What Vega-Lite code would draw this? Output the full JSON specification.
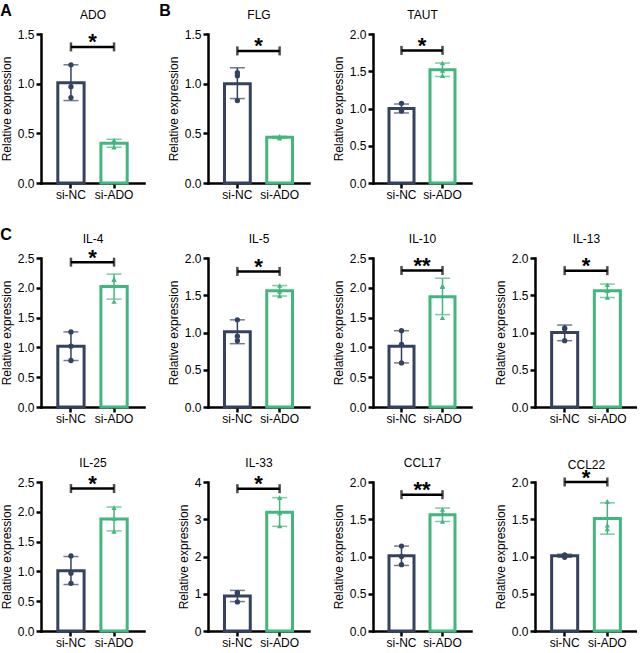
{
  "$schema": "https://vega.github.io/schema/vega-lite/v6.json",
  "padding": {"left": 0, "top": 2, "right": 0, "bottom": 0},
  "background": "white",
  "data": {
    "values": [
      {"panel": "ADO", "kind": "bar", "group": "si-NC", "mean": 1.01, "lo": 0.83, "hi": 1.19},
      {"panel": "ADO", "kind": "bar", "group": "si-ADO", "mean": 0.40, "lo": 0.36, "hi": 0.44},
      {"panel": "ADO", "kind": "pt", "group": "si-NC", "value": 1.19},
      {"panel": "ADO", "kind": "pt", "group": "si-NC", "value": 0.97},
      {"panel": "ADO", "kind": "pt", "group": "si-NC", "value": 0.86},
      {"panel": "ADO", "kind": "pt", "group": "si-ADO", "value": 0.43},
      {"panel": "ADO", "kind": "pt", "group": "si-ADO", "value": 0.42},
      {"panel": "ADO", "kind": "pt", "group": "si-ADO", "value": 0.36},
      {"panel": "ADO", "kind": "sig", "y": 1.37, "label": "*"},

      {"panel": "FLG", "kind": "bar", "group": "si-NC", "mean": 1.00, "lo": 0.85, "hi": 1.16},
      {"panel": "FLG", "kind": "bar", "group": "si-ADO", "mean": 0.46, "lo": 0.45, "hi": 0.47},
      {"panel": "FLG", "kind": "pt", "group": "si-NC", "value": 1.11},
      {"panel": "FLG", "kind": "pt", "group": "si-NC", "value": 1.08},
      {"panel": "FLG", "kind": "pt", "group": "si-NC", "value": 0.83},
      {"panel": "FLG", "kind": "pt", "group": "si-ADO", "value": 0.47},
      {"panel": "FLG", "kind": "pt", "group": "si-ADO", "value": 0.46},
      {"panel": "FLG", "kind": "pt", "group": "si-ADO", "value": 0.45},
      {"panel": "FLG", "kind": "sig", "y": 1.33, "label": "*"},

      {"panel": "TAUT", "kind": "bar", "group": "si-NC", "mean": 1.00, "lo": 0.94, "hi": 1.06},
      {"panel": "TAUT", "kind": "bar", "group": "si-ADO", "mean": 1.52, "lo": 1.43, "hi": 1.61},
      {"panel": "TAUT", "kind": "pt", "group": "si-NC", "value": 1.07},
      {"panel": "TAUT", "kind": "pt", "group": "si-NC", "value": 0.97},
      {"panel": "TAUT", "kind": "pt", "group": "si-NC", "value": 0.97},
      {"panel": "TAUT", "kind": "pt", "group": "si-ADO", "value": 1.61},
      {"panel": "TAUT", "kind": "pt", "group": "si-ADO", "value": 1.51},
      {"panel": "TAUT", "kind": "pt", "group": "si-ADO", "value": 1.44},
      {"panel": "TAUT", "kind": "sig", "y": 1.78, "label": "*"},

      {"panel": "IL-4", "kind": "bar", "group": "si-NC", "mean": 1.02, "lo": 0.78, "hi": 1.26},
      {"panel": "IL-4", "kind": "bar", "group": "si-ADO", "mean": 2.02, "lo": 1.81, "hi": 2.23},
      {"panel": "IL-4", "kind": "pt", "group": "si-NC", "value": 1.26},
      {"panel": "IL-4", "kind": "pt", "group": "si-NC", "value": 1.02},
      {"panel": "IL-4", "kind": "pt", "group": "si-NC", "value": 0.78},
      {"panel": "IL-4", "kind": "pt", "group": "si-ADO", "value": 2.14},
      {"panel": "IL-4", "kind": "pt", "group": "si-ADO", "value": 2.14},
      {"panel": "IL-4", "kind": "pt", "group": "si-ADO", "value": 1.77},
      {"panel": "IL-4", "kind": "sig", "y": 2.43, "label": "*"},

      {"panel": "IL-5", "kind": "bar", "group": "si-NC", "mean": 1.01, "lo": 0.85, "hi": 1.17},
      {"panel": "IL-5", "kind": "bar", "group": "si-ADO", "mean": 1.56, "lo": 1.49, "hi": 1.63},
      {"panel": "IL-5", "kind": "pt", "group": "si-NC", "value": 1.17},
      {"panel": "IL-5", "kind": "pt", "group": "si-NC", "value": 0.95},
      {"panel": "IL-5", "kind": "pt", "group": "si-NC", "value": 0.89},
      {"panel": "IL-5", "kind": "pt", "group": "si-ADO", "value": 1.63},
      {"panel": "IL-5", "kind": "pt", "group": "si-ADO", "value": 1.55},
      {"panel": "IL-5", "kind": "pt", "group": "si-ADO", "value": 1.49},
      {"panel": "IL-5", "kind": "sig", "y": 1.82, "label": "*"},

      {"panel": "IL-10", "kind": "bar", "group": "si-NC", "mean": 1.02, "lo": 0.74, "hi": 1.28},
      {"panel": "IL-10", "kind": "bar", "group": "si-ADO", "mean": 1.85, "lo": 1.55, "hi": 2.16},
      {"panel": "IL-10", "kind": "pt", "group": "si-NC", "value": 1.28},
      {"panel": "IL-10", "kind": "pt", "group": "si-NC", "value": 1.05},
      {"panel": "IL-10", "kind": "pt", "group": "si-NC", "value": 0.74},
      {"panel": "IL-10", "kind": "pt", "group": "si-ADO", "value": 2.03},
      {"panel": "IL-10", "kind": "pt", "group": "si-ADO", "value": 2.02},
      {"panel": "IL-10", "kind": "pt", "group": "si-ADO", "value": 1.50},
      {"panel": "IL-10", "kind": "sig", "y": 2.29, "label": "**"},

      {"panel": "IL-13", "kind": "bar", "group": "si-NC", "mean": 1.00, "lo": 0.89, "hi": 1.10},
      {"panel": "IL-13", "kind": "bar", "group": "si-ADO", "mean": 1.56, "lo": 1.47, "hi": 1.65},
      {"panel": "IL-13", "kind": "pt", "group": "si-NC", "value": 1.06},
      {"panel": "IL-13", "kind": "pt", "group": "si-NC", "value": 1.05},
      {"panel": "IL-13", "kind": "pt", "group": "si-NC", "value": 0.89},
      {"panel": "IL-13", "kind": "pt", "group": "si-ADO", "value": 1.64},
      {"panel": "IL-13", "kind": "pt", "group": "si-ADO", "value": 1.56},
      {"panel": "IL-13", "kind": "pt", "group": "si-ADO", "value": 1.47},
      {"panel": "IL-13", "kind": "sig", "y": 1.83, "label": "*"},

      {"panel": "IL-25", "kind": "bar", "group": "si-NC", "mean": 1.01, "lo": 0.78, "hi": 1.25},
      {"panel": "IL-25", "kind": "bar", "group": "si-ADO", "mean": 1.88, "lo": 1.68, "hi": 2.08},
      {"panel": "IL-25", "kind": "pt", "group": "si-NC", "value": 1.26},
      {"panel": "IL-25", "kind": "pt", "group": "si-NC", "value": 0.97},
      {"panel": "IL-25", "kind": "pt", "group": "si-NC", "value": 0.80},
      {"panel": "IL-25", "kind": "pt", "group": "si-ADO", "value": 2.07},
      {"panel": "IL-25", "kind": "pt", "group": "si-ADO", "value": 1.89},
      {"panel": "IL-25", "kind": "pt", "group": "si-ADO", "value": 1.67},
      {"panel": "IL-25", "kind": "sig", "y": 2.39, "label": "*"},

      {"panel": "IL-33", "kind": "bar", "group": "si-NC", "mean": 0.94, "lo": 0.79, "hi": 1.09},
      {"panel": "IL-33", "kind": "bar", "group": "si-ADO", "mean": 3.19, "lo": 2.81, "hi": 3.58},
      {"panel": "IL-33", "kind": "pt", "group": "si-NC", "value": 1.03},
      {"panel": "IL-33", "kind": "pt", "group": "si-NC", "value": 1.02},
      {"panel": "IL-33", "kind": "pt", "group": "si-NC", "value": 0.78},
      {"panel": "IL-33", "kind": "pt", "group": "si-ADO", "value": 3.58},
      {"panel": "IL-33", "kind": "pt", "group": "si-ADO", "value": 3.17},
      {"panel": "IL-33", "kind": "pt", "group": "si-ADO", "value": 2.82},
      {"panel": "IL-33", "kind": "sig", "y": 3.82, "label": "*"},

      {"panel": "CCL17", "kind": "bar", "group": "si-NC", "mean": 1.01, "lo": 0.88, "hi": 1.14},
      {"panel": "CCL17", "kind": "bar", "group": "si-ADO", "mean": 1.56, "lo": 1.47, "hi": 1.65},
      {"panel": "CCL17", "kind": "pt", "group": "si-NC", "value": 1.14},
      {"panel": "CCL17", "kind": "pt", "group": "si-NC", "value": 1.00},
      {"panel": "CCL17", "kind": "pt", "group": "si-NC", "value": 0.89},
      {"panel": "CCL17", "kind": "pt", "group": "si-ADO", "value": 1.63},
      {"panel": "CCL17", "kind": "pt", "group": "si-ADO", "value": 1.58},
      {"panel": "CCL17", "kind": "pt", "group": "si-ADO", "value": 1.47},
      {"panel": "CCL17", "kind": "sig", "y": 1.83, "label": "**"},

      {"panel": "CCL22", "kind": "bar", "group": "si-NC", "mean": 1.01, "lo": 0.99, "hi": 1.03},
      {"panel": "CCL22", "kind": "bar", "group": "si-ADO", "mean": 1.51, "lo": 1.30, "hi": 1.72},
      {"panel": "CCL22", "kind": "pt", "group": "si-NC", "value": 1.02},
      {"panel": "CCL22", "kind": "pt", "group": "si-NC", "value": 1.01},
      {"panel": "CCL22", "kind": "pt", "group": "si-NC", "value": 0.99},
      {"panel": "CCL22", "kind": "pt", "group": "si-ADO", "value": 1.74},
      {"panel": "CCL22", "kind": "pt", "group": "si-ADO", "value": 1.42},
      {"panel": "CCL22", "kind": "pt", "group": "si-ADO", "value": 1.37},
      {"panel": "CCL22", "kind": "sig", "y": 2.0, "label": "*"}
    ]
  },
  "columns": 4,
  "bounds": "flush",
  "align": "each",
  "spacing": {"row": 75, "column": 64},
  "concat": [
    {
      "width": 103, "height": 149,
      "title": {"text": "A"},
      "transform": [{"filter": "datum.panel == 'ADO'"}],
      "resolve": {"axis": {"x": "independent"}},
      "encoding": {"color": {"field": "group", "type": "nominal", "scale": {"domain": ["si-NC", "si-ADO"], "range": ["#34425f", "#43b57f"]}, "legend": null}},
      "layer": [
        {"transform": [{"filter": "datum.kind == 'bar'"}], "mark": {"type": "bar", "fill": "white", "strokeWidth": 3},
         "encoding": {"x": {"field": "group", "type": "nominal", "scale": {"domain": ["si-NC", "si-ADO"], "paddingInner": 0.39, "paddingOuter": 0.39}, "axis": {"title": null}},
                      "y": {"field": "mean", "type": "quantitative", "scale": {"domain": [0, 1.5], "nice": false}, "axis": {"title": "Relative expression", "values": [0, 0.5, 1, 1.5], "tickCount": 20, "format": ".1f"}},
                      "color": {"value": "white"},
                      "stroke": {"field": "group", "type": "nominal", "scale": {"domain": ["si-NC", "si-ADO"], "range": ["#34425f", "#43b57f"]}, "legend": null}}},
        {"transform": [{"filter": "datum.kind == 'bar'"}], "mark": {"type": "rule", "strokeWidth": 1.5},
         "encoding": {"x": {"field": "group", "type": "nominal", "axis": null}, "y": {"field": "lo", "type": "quantitative"}, "y2": {"field": "hi"}}},
        {"transform": [{"filter": "datum.kind == 'bar'"}], "mark": {"type": "tick", "orient": "horizontal", "size": 15, "thickness": 1.5},
         "encoding": {"x": {"field": "group", "type": "nominal", "axis": null}, "y": {"field": "lo", "type": "quantitative"}}},
        {"transform": [{"filter": "datum.kind == 'bar'"}], "mark": {"type": "tick", "orient": "horizontal", "size": 15, "thickness": 1.5},
         "encoding": {"x": {"field": "group", "type": "nominal", "axis": null}, "y": {"field": "hi", "type": "quantitative"}}},
        {"transform": [{"filter": "datum.kind == 'pt'"}], "mark": {"type": "point", "filled": true, "size": 28, "opacity": 1},
         "encoding": {"x": {"field": "group", "type": "nominal", "axis": {"orient": "top", "title": "ADO", "labels": false, "ticks": false, "domain": false, "titlePadding": 12.5}},
                      "y": {"field": "value", "type": "quantitative"},
                      "shape": {"field": "group", "type": "nominal", "scale": {"domain": ["si-NC", "si-ADO"], "range": ["circle", "triangle-up"]}, "legend": null}}},
        {"transform": [{"filter": "datum.kind == 'sig'"}], "mark": {"type": "rule", "strokeWidth": 2.5},
         "encoding": {"x": {"datum": "si-NC", "axis": null}, "x2": {"datum": "si-ADO"}, "y": {"field": "y", "type": "quantitative"}, "color": {"value": "black"}}},
        {"transform": [{"filter": "datum.kind == 'sig'"}], "mark": {"type": "tick", "orient": "vertical", "size": 9, "thickness": 2.5},
         "encoding": {"x": {"datum": "si-NC", "axis": null}, "y": {"field": "y", "type": "quantitative"}, "color": {"value": "black"}}},
        {"transform": [{"filter": "datum.kind == 'sig'"}], "mark": {"type": "tick", "orient": "vertical", "size": 9, "thickness": 2.5},
         "encoding": {"x": {"datum": "si-ADO", "axis": null}, "y": {"field": "y", "type": "quantitative"}, "color": {"value": "black"}}},
        {"transform": [{"filter": "datum.kind == 'sig'"}], "mark": {"type": "text", "fontSize": 22, "fontWeight": "bold", "baseline": "alphabetic", "dy": 2.5},
         "encoding": {"y": {"field": "y", "type": "quantitative"}, "text": {"field": "label"}, "color": {"value": "black"}}}
      ]
    },
    {
      "width": 101, "height": 149,
      "title": {"text": "B", "dx": -8},
      "transform": [{"filter": "datum.panel == 'FLG'"}],
      "resolve": {"axis": {"x": "independent"}},
      "encoding": {"color": {"field": "group", "type": "nominal", "scale": {"domain": ["si-NC", "si-ADO"], "range": ["#34425f", "#43b57f"]}, "legend": null}},
      "layer": [
        {"transform": [{"filter": "datum.kind == 'bar'"}], "mark": {"type": "bar", "fill": "white", "strokeWidth": 3},
         "encoding": {"x": {"field": "group", "type": "nominal", "scale": {"domain": ["si-NC", "si-ADO"], "paddingInner": 0.39, "paddingOuter": 0.39}, "axis": {"title": null}},
                      "y": {"field": "mean", "type": "quantitative", "scale": {"domain": [0, 1.5], "nice": false}, "axis": {"title": "Relative expression", "values": [0, 0.5, 1, 1.5], "tickCount": 20, "format": ".1f"}},
                      "color": {"value": "white"},
                      "stroke": {"field": "group", "type": "nominal", "scale": {"domain": ["si-NC", "si-ADO"], "range": ["#34425f", "#43b57f"]}, "legend": null}}},
        {"transform": [{"filter": "datum.kind == 'bar'"}], "mark": {"type": "rule", "strokeWidth": 1.5},
         "encoding": {"x": {"field": "group", "type": "nominal", "axis": null}, "y": {"field": "lo", "type": "quantitative"}, "y2": {"field": "hi"}}},
        {"transform": [{"filter": "datum.kind == 'bar'"}], "mark": {"type": "tick", "orient": "horizontal", "size": 15, "thickness": 1.5},
         "encoding": {"x": {"field": "group", "type": "nominal", "axis": null}, "y": {"field": "lo", "type": "quantitative"}}},
        {"transform": [{"filter": "datum.kind == 'bar'"}], "mark": {"type": "tick", "orient": "horizontal", "size": 15, "thickness": 1.5},
         "encoding": {"x": {"field": "group", "type": "nominal", "axis": null}, "y": {"field": "hi", "type": "quantitative"}}},
        {"transform": [{"filter": "datum.kind == 'pt'"}], "mark": {"type": "point", "filled": true, "size": 28, "opacity": 1},
         "encoding": {"x": {"field": "group", "type": "nominal", "axis": {"orient": "top", "title": "FLG", "labels": false, "ticks": false, "domain": false, "titlePadding": 12.5}},
                      "y": {"field": "value", "type": "quantitative"},
                      "shape": {"field": "group", "type": "nominal", "scale": {"domain": ["si-NC", "si-ADO"], "range": ["circle", "triangle-up"]}, "legend": null}}},
        {"transform": [{"filter": "datum.kind == 'sig'"}], "mark": {"type": "rule", "strokeWidth": 2.5},
         "encoding": {"x": {"datum": "si-NC", "axis": null}, "x2": {"datum": "si-ADO"}, "y": {"field": "y", "type": "quantitative"}, "color": {"value": "black"}}},
        {"transform": [{"filter": "datum.kind == 'sig'"}], "mark": {"type": "tick", "orient": "vertical", "size": 9, "thickness": 2.5},
         "encoding": {"x": {"datum": "si-NC", "axis": null}, "y": {"field": "y", "type": "quantitative"}, "color": {"value": "black"}}},
        {"transform": [{"filter": "datum.kind == 'sig'"}], "mark": {"type": "tick", "orient": "vertical", "size": 9, "thickness": 2.5},
         "encoding": {"x": {"datum": "si-ADO", "axis": null}, "y": {"field": "y", "type": "quantitative"}, "color": {"value": "black"}}},
        {"transform": [{"filter": "datum.kind == 'sig'"}], "mark": {"type": "text", "fontSize": 22, "fontWeight": "bold", "baseline": "alphabetic", "dy": 2.5},
         "encoding": {"y": {"field": "y", "type": "quantitative"}, "text": {"field": "label"}, "color": {"value": "black"}}}
      ]
    },
    {
      "width": 98, "height": 149,
      "transform": [{"filter": "datum.panel == 'TAUT'"}],
      "resolve": {"axis": {"x": "independent"}},
      "encoding": {"color": {"field": "group", "type": "nominal", "scale": {"domain": ["si-NC", "si-ADO"], "range": ["#34425f", "#43b57f"]}, "legend": null}},
      "layer": [
        {"transform": [{"filter": "datum.kind == 'bar'"}], "mark": {"type": "bar", "fill": "white", "strokeWidth": 3},
         "encoding": {"x": {"field": "group", "type": "nominal", "scale": {"domain": ["si-NC", "si-ADO"], "paddingInner": 0.39, "paddingOuter": 0.39}, "axis": {"title": null}},
                      "y": {"field": "mean", "type": "quantitative", "scale": {"domain": [0, 2], "nice": false}, "axis": {"title": "Relative expression", "values": [0, 0.5, 1, 1.5, 2], "tickCount": 20, "format": ".1f"}},
                      "color": {"value": "white"},
                      "stroke": {"field": "group", "type": "nominal", "scale": {"domain": ["si-NC", "si-ADO"], "range": ["#34425f", "#43b57f"]}, "legend": null}}},
        {"transform": [{"filter": "datum.kind == 'bar'"}], "mark": {"type": "rule", "strokeWidth": 1.5},
         "encoding": {"x": {"field": "group", "type": "nominal", "axis": null}, "y": {"field": "lo", "type": "quantitative"}, "y2": {"field": "hi"}}},
        {"transform": [{"filter": "datum.kind == 'bar'"}], "mark": {"type": "tick", "orient": "horizontal", "size": 15, "thickness": 1.5},
         "encoding": {"x": {"field": "group", "type": "nominal", "axis": null}, "y": {"field": "lo", "type": "quantitative"}}},
        {"transform": [{"filter": "datum.kind == 'bar'"}], "mark": {"type": "tick", "orient": "horizontal", "size": 15, "thickness": 1.5},
         "encoding": {"x": {"field": "group", "type": "nominal", "axis": null}, "y": {"field": "hi", "type": "quantitative"}}},
        {"transform": [{"filter": "datum.kind == 'pt'"}], "mark": {"type": "point", "filled": true, "size": 28, "opacity": 1},
         "encoding": {"x": {"field": "group", "type": "nominal", "axis": {"orient": "top", "title": "TAUT", "labels": false, "ticks": false, "domain": false, "titlePadding": 12.5}},
                      "y": {"field": "value", "type": "quantitative"},
                      "shape": {"field": "group", "type": "nominal", "scale": {"domain": ["si-NC", "si-ADO"], "range": ["circle", "triangle-up"]}, "legend": null}}},
        {"transform": [{"filter": "datum.kind == 'sig'"}], "mark": {"type": "rule", "strokeWidth": 2.5},
         "encoding": {"x": {"datum": "si-NC", "axis": null}, "x2": {"datum": "si-ADO"}, "y": {"field": "y", "type": "quantitative"}, "color": {"value": "black"}}},
        {"transform": [{"filter": "datum.kind == 'sig'"}], "mark": {"type": "tick", "orient": "vertical", "size": 9, "thickness": 2.5},
         "encoding": {"x": {"datum": "si-NC", "axis": null}, "y": {"field": "y", "type": "quantitative"}, "color": {"value": "black"}}},
        {"transform": [{"filter": "datum.kind == 'sig'"}], "mark": {"type": "tick", "orient": "vertical", "size": 9, "thickness": 2.5},
         "encoding": {"x": {"datum": "si-ADO", "axis": null}, "y": {"field": "y", "type": "quantitative"}, "color": {"value": "black"}}},
        {"transform": [{"filter": "datum.kind == 'sig'"}], "mark": {"type": "text", "fontSize": 22, "fontWeight": "bold", "baseline": "alphabetic", "dy": 2.5},
         "encoding": {"y": {"field": "y", "type": "quantitative"}, "text": {"field": "label"}, "color": {"value": "black"}}}
      ]
    },
    {
      "width": 102, "height": 149,
      "data": {"values": []},
      "mark": "point"
    },
    {
      "width": 103, "height": 149,
      "title": {"text": "C"},
      "transform": [{"filter": "datum.panel == 'IL-4'"}],
      "resolve": {"axis": {"x": "independent"}},
      "encoding": {"color": {"field": "group", "type": "nominal", "scale": {"domain": ["si-NC", "si-ADO"], "range": ["#34425f", "#43b57f"]}, "legend": null}},
      "layer": [
        {"transform": [{"filter": "datum.kind == 'bar'"}], "mark": {"type": "bar", "fill": "white", "strokeWidth": 3},
         "encoding": {"x": {"field": "group", "type": "nominal", "scale": {"domain": ["si-NC", "si-ADO"], "paddingInner": 0.39, "paddingOuter": 0.39}, "axis": {"title": null}},
                      "y": {"field": "mean", "type": "quantitative", "scale": {"domain": [0, 2.5], "nice": false}, "axis": {"title": "Relative expression", "values": [0, 0.5, 1, 1.5, 2, 2.5], "tickCount": 20, "format": ".1f"}},
                      "color": {"value": "white"},
                      "stroke": {"field": "group", "type": "nominal", "scale": {"domain": ["si-NC", "si-ADO"], "range": ["#34425f", "#43b57f"]}, "legend": null}}},
        {"transform": [{"filter": "datum.kind == 'bar'"}], "mark": {"type": "rule", "strokeWidth": 1.5},
         "encoding": {"x": {"field": "group", "type": "nominal", "axis": null}, "y": {"field": "lo", "type": "quantitative"}, "y2": {"field": "hi"}}},
        {"transform": [{"filter": "datum.kind == 'bar'"}], "mark": {"type": "tick", "orient": "horizontal", "size": 15, "thickness": 1.5},
         "encoding": {"x": {"field": "group", "type": "nominal", "axis": null}, "y": {"field": "lo", "type": "quantitative"}}},
        {"transform": [{"filter": "datum.kind == 'bar'"}], "mark": {"type": "tick", "orient": "horizontal", "size": 15, "thickness": 1.5},
         "encoding": {"x": {"field": "group", "type": "nominal", "axis": null}, "y": {"field": "hi", "type": "quantitative"}}},
        {"transform": [{"filter": "datum.kind == 'pt'"}], "mark": {"type": "point", "filled": true, "size": 28, "opacity": 1},
         "encoding": {"x": {"field": "group", "type": "nominal", "axis": {"orient": "top", "title": "IL-4", "labels": false, "ticks": false, "domain": false, "titlePadding": 12.5}},
                      "y": {"field": "value", "type": "quantitative"},
                      "shape": {"field": "group", "type": "nominal", "scale": {"domain": ["si-NC", "si-ADO"], "range": ["circle", "triangle-up"]}, "legend": null}}},
        {"transform": [{"filter": "datum.kind == 'sig'"}], "mark": {"type": "rule", "strokeWidth": 2.5},
         "encoding": {"x": {"datum": "si-NC", "axis": null}, "x2": {"datum": "si-ADO"}, "y": {"field": "y", "type": "quantitative"}, "color": {"value": "black"}}},
        {"transform": [{"filter": "datum.kind == 'sig'"}], "mark": {"type": "tick", "orient": "vertical", "size": 9, "thickness": 2.5},
         "encoding": {"x": {"datum": "si-NC", "axis": null}, "y": {"field": "y", "type": "quantitative"}, "color": {"value": "black"}}},
        {"transform": [{"filter": "datum.kind == 'sig'"}], "mark": {"type": "tick", "orient": "vertical", "size": 9, "thickness": 2.5},
         "encoding": {"x": {"datum": "si-ADO", "axis": null}, "y": {"field": "y", "type": "quantitative"}, "color": {"value": "black"}}},
        {"transform": [{"filter": "datum.kind == 'sig'"}], "mark": {"type": "text", "fontSize": 22, "fontWeight": "bold", "baseline": "alphabetic", "dy": 2.5},
         "encoding": {"y": {"field": "y", "type": "quantitative"}, "text": {"field": "label"}, "color": {"value": "black"}}}
      ]
    },
    {
      "width": 101, "height": 149,
      "transform": [{"filter": "datum.panel == 'IL-5'"}],
      "resolve": {"axis": {"x": "independent"}},
      "encoding": {"color": {"field": "group", "type": "nominal", "scale": {"domain": ["si-NC", "si-ADO"], "range": ["#34425f", "#43b57f"]}, "legend": null}},
      "layer": [
        {"transform": [{"filter": "datum.kind == 'bar'"}], "mark": {"type": "bar", "fill": "white", "strokeWidth": 3},
         "encoding": {"x": {"field": "group", "type": "nominal", "scale": {"domain": ["si-NC", "si-ADO"], "paddingInner": 0.39, "paddingOuter": 0.39}, "axis": {"title": null}},
                      "y": {"field": "mean", "type": "quantitative", "scale": {"domain": [0, 2], "nice": false}, "axis": {"title": "Relative expression", "values": [0, 0.5, 1, 1.5, 2], "tickCount": 20, "format": ".1f"}},
                      "color": {"value": "white"},
                      "stroke": {"field": "group", "type": "nominal", "scale": {"domain": ["si-NC", "si-ADO"], "range": ["#34425f", "#43b57f"]}, "legend": null}}},
        {"transform": [{"filter": "datum.kind == 'bar'"}], "mark": {"type": "rule", "strokeWidth": 1.5},
         "encoding": {"x": {"field": "group", "type": "nominal", "axis": null}, "y": {"field": "lo", "type": "quantitative"}, "y2": {"field": "hi"}}},
        {"transform": [{"filter": "datum.kind == 'bar'"}], "mark": {"type": "tick", "orient": "horizontal", "size": 15, "thickness": 1.5},
         "encoding": {"x": {"field": "group", "type": "nominal", "axis": null}, "y": {"field": "lo", "type": "quantitative"}}},
        {"transform": [{"filter": "datum.kind == 'bar'"}], "mark": {"type": "tick", "orient": "horizontal", "size": 15, "thickness": 1.5},
         "encoding": {"x": {"field": "group", "type": "nominal", "axis": null}, "y": {"field": "hi", "type": "quantitative"}}},
        {"transform": [{"filter": "datum.kind == 'pt'"}], "mark": {"type": "point", "filled": true, "size": 28, "opacity": 1},
         "encoding": {"x": {"field": "group", "type": "nominal", "axis": {"orient": "top", "title": "IL-5", "labels": false, "ticks": false, "domain": false, "titlePadding": 12.5}},
                      "y": {"field": "value", "type": "quantitative"},
                      "shape": {"field": "group", "type": "nominal", "scale": {"domain": ["si-NC", "si-ADO"], "range": ["circle", "triangle-up"]}, "legend": null}}},
        {"transform": [{"filter": "datum.kind == 'sig'"}], "mark": {"type": "rule", "strokeWidth": 2.5},
         "encoding": {"x": {"datum": "si-NC", "axis": null}, "x2": {"datum": "si-ADO"}, "y": {"field": "y", "type": "quantitative"}, "color": {"value": "black"}}},
        {"transform": [{"filter": "datum.kind == 'sig'"}], "mark": {"type": "tick", "orient": "vertical", "size": 9, "thickness": 2.5},
         "encoding": {"x": {"datum": "si-NC", "axis": null}, "y": {"field": "y", "type": "quantitative"}, "color": {"value": "black"}}},
        {"transform": [{"filter": "datum.kind == 'sig'"}], "mark": {"type": "tick", "orient": "vertical", "size": 9, "thickness": 2.5},
         "encoding": {"x": {"datum": "si-ADO", "axis": null}, "y": {"field": "y", "type": "quantitative"}, "color": {"value": "black"}}},
        {"transform": [{"filter": "datum.kind == 'sig'"}], "mark": {"type": "text", "fontSize": 22, "fontWeight": "bold", "baseline": "alphabetic", "dy": 2.5},
         "encoding": {"y": {"field": "y", "type": "quantitative"}, "text": {"field": "label"}, "color": {"value": "black"}}}
      ]
    },
    {
      "width": 98, "height": 149,
      "transform": [{"filter": "datum.panel == 'IL-10'"}],
      "resolve": {"axis": {"x": "independent"}},
      "encoding": {"color": {"field": "group", "type": "nominal", "scale": {"domain": ["si-NC", "si-ADO"], "range": ["#34425f", "#43b57f"]}, "legend": null}},
      "layer": [
        {"transform": [{"filter": "datum.kind == 'bar'"}], "mark": {"type": "bar", "fill": "white", "strokeWidth": 3},
         "encoding": {"x": {"field": "group", "type": "nominal", "scale": {"domain": ["si-NC", "si-ADO"], "paddingInner": 0.39, "paddingOuter": 0.39}, "axis": {"title": null}},
                      "y": {"field": "mean", "type": "quantitative", "scale": {"domain": [0, 2.5], "nice": false}, "axis": {"title": "Relative expression", "values": [0, 0.5, 1, 1.5, 2, 2.5], "tickCount": 20, "format": ".1f"}},
                      "color": {"value": "white"},
                      "stroke": {"field": "group", "type": "nominal", "scale": {"domain": ["si-NC", "si-ADO"], "range": ["#34425f", "#43b57f"]}, "legend": null}}},
        {"transform": [{"filter": "datum.kind == 'bar'"}], "mark": {"type": "rule", "strokeWidth": 1.5},
         "encoding": {"x": {"field": "group", "type": "nominal", "axis": null}, "y": {"field": "lo", "type": "quantitative"}, "y2": {"field": "hi"}}},
        {"transform": [{"filter": "datum.kind == 'bar'"}], "mark": {"type": "tick", "orient": "horizontal", "size": 15, "thickness": 1.5},
         "encoding": {"x": {"field": "group", "type": "nominal", "axis": null}, "y": {"field": "lo", "type": "quantitative"}}},
        {"transform": [{"filter": "datum.kind == 'bar'"}], "mark": {"type": "tick", "orient": "horizontal", "size": 15, "thickness": 1.5},
         "encoding": {"x": {"field": "group", "type": "nominal", "axis": null}, "y": {"field": "hi", "type": "quantitative"}}},
        {"transform": [{"filter": "datum.kind == 'pt'"}], "mark": {"type": "point", "filled": true, "size": 28, "opacity": 1},
         "encoding": {"x": {"field": "group", "type": "nominal", "axis": {"orient": "top", "title": "IL-10", "labels": false, "ticks": false, "domain": false, "titlePadding": 12.5}},
                      "y": {"field": "value", "type": "quantitative"},
                      "shape": {"field": "group", "type": "nominal", "scale": {"domain": ["si-NC", "si-ADO"], "range": ["circle", "triangle-up"]}, "legend": null}}},
        {"transform": [{"filter": "datum.kind == 'sig'"}], "mark": {"type": "rule", "strokeWidth": 2.5},
         "encoding": {"x": {"datum": "si-NC", "axis": null}, "x2": {"datum": "si-ADO"}, "y": {"field": "y", "type": "quantitative"}, "color": {"value": "black"}}},
        {"transform": [{"filter": "datum.kind == 'sig'"}], "mark": {"type": "tick", "orient": "vertical", "size": 9, "thickness": 2.5},
         "encoding": {"x": {"datum": "si-NC", "axis": null}, "y": {"field": "y", "type": "quantitative"}, "color": {"value": "black"}}},
        {"transform": [{"filter": "datum.kind == 'sig'"}], "mark": {"type": "tick", "orient": "vertical", "size": 9, "thickness": 2.5},
         "encoding": {"x": {"datum": "si-ADO", "axis": null}, "y": {"field": "y", "type": "quantitative"}, "color": {"value": "black"}}},
        {"transform": [{"filter": "datum.kind == 'sig'"}], "mark": {"type": "text", "fontSize": 22, "fontWeight": "bold", "baseline": "alphabetic", "dy": 2.5},
         "encoding": {"y": {"field": "y", "type": "quantitative"}, "text": {"field": "label"}, "color": {"value": "black"}}}
      ]
    },
    {
      "width": 102, "height": 149,
      "transform": [{"filter": "datum.panel == 'IL-13'"}],
      "resolve": {"axis": {"x": "independent"}},
      "encoding": {"color": {"field": "group", "type": "nominal", "scale": {"domain": ["si-NC", "si-ADO"], "range": ["#34425f", "#43b57f"]}, "legend": null}},
      "layer": [
        {"transform": [{"filter": "datum.kind == 'bar'"}], "mark": {"type": "bar", "fill": "white", "strokeWidth": 3},
         "encoding": {"x": {"field": "group", "type": "nominal", "scale": {"domain": ["si-NC", "si-ADO"], "paddingInner": 0.39, "paddingOuter": 0.39}, "axis": {"title": null}},
                      "y": {"field": "mean", "type": "quantitative", "scale": {"domain": [0, 2], "nice": false}, "axis": {"title": "Relative expression", "values": [0, 0.5, 1, 1.5, 2], "tickCount": 20, "format": ".1f"}},
                      "color": {"value": "white"},
                      "stroke": {"field": "group", "type": "nominal", "scale": {"domain": ["si-NC", "si-ADO"], "range": ["#34425f", "#43b57f"]}, "legend": null}}},
        {"transform": [{"filter": "datum.kind == 'bar'"}], "mark": {"type": "rule", "strokeWidth": 1.5},
         "encoding": {"x": {"field": "group", "type": "nominal", "axis": null}, "y": {"field": "lo", "type": "quantitative"}, "y2": {"field": "hi"}}},
        {"transform": [{"filter": "datum.kind == 'bar'"}], "mark": {"type": "tick", "orient": "horizontal", "size": 15, "thickness": 1.5},
         "encoding": {"x": {"field": "group", "type": "nominal", "axis": null}, "y": {"field": "lo", "type": "quantitative"}}},
        {"transform": [{"filter": "datum.kind == 'bar'"}], "mark": {"type": "tick", "orient": "horizontal", "size": 15, "thickness": 1.5},
         "encoding": {"x": {"field": "group", "type": "nominal", "axis": null}, "y": {"field": "hi", "type": "quantitative"}}},
        {"transform": [{"filter": "datum.kind == 'pt'"}], "mark": {"type": "point", "filled": true, "size": 28, "opacity": 1},
         "encoding": {"x": {"field": "group", "type": "nominal", "axis": {"orient": "top", "title": "IL-13", "labels": false, "ticks": false, "domain": false, "titlePadding": 12.5}},
                      "y": {"field": "value", "type": "quantitative"},
                      "shape": {"field": "group", "type": "nominal", "scale": {"domain": ["si-NC", "si-ADO"], "range": ["circle", "triangle-up"]}, "legend": null}}},
        {"transform": [{"filter": "datum.kind == 'sig'"}], "mark": {"type": "rule", "strokeWidth": 2.5},
         "encoding": {"x": {"datum": "si-NC", "axis": null}, "x2": {"datum": "si-ADO"}, "y": {"field": "y", "type": "quantitative"}, "color": {"value": "black"}}},
        {"transform": [{"filter": "datum.kind == 'sig'"}], "mark": {"type": "tick", "orient": "vertical", "size": 9, "thickness": 2.5},
         "encoding": {"x": {"datum": "si-NC", "axis": null}, "y": {"field": "y", "type": "quantitative"}, "color": {"value": "black"}}},
        {"transform": [{"filter": "datum.kind == 'sig'"}], "mark": {"type": "tick", "orient": "vertical", "size": 9, "thickness": 2.5},
         "encoding": {"x": {"datum": "si-ADO", "axis": null}, "y": {"field": "y", "type": "quantitative"}, "color": {"value": "black"}}},
        {"transform": [{"filter": "datum.kind == 'sig'"}], "mark": {"type": "text", "fontSize": 22, "fontWeight": "bold", "baseline": "alphabetic", "dy": 2.5},
         "encoding": {"y": {"field": "y", "type": "quantitative"}, "text": {"field": "label"}, "color": {"value": "black"}}}
      ]
    },
    {
      "width": 103, "height": 149,
      "transform": [{"filter": "datum.panel == 'IL-25'"}],
      "resolve": {"axis": {"x": "independent"}},
      "encoding": {"color": {"field": "group", "type": "nominal", "scale": {"domain": ["si-NC", "si-ADO"], "range": ["#34425f", "#43b57f"]}, "legend": null}},
      "layer": [
        {"transform": [{"filter": "datum.kind == 'bar'"}], "mark": {"type": "bar", "fill": "white", "strokeWidth": 3},
         "encoding": {"x": {"field": "group", "type": "nominal", "scale": {"domain": ["si-NC", "si-ADO"], "paddingInner": 0.39, "paddingOuter": 0.39}, "axis": {"title": null}},
                      "y": {"field": "mean", "type": "quantitative", "scale": {"domain": [0, 2.5], "nice": false}, "axis": {"title": "Relative expression", "values": [0, 0.5, 1, 1.5, 2, 2.5], "tickCount": 20, "format": ".1f"}},
                      "color": {"value": "white"},
                      "stroke": {"field": "group", "type": "nominal", "scale": {"domain": ["si-NC", "si-ADO"], "range": ["#34425f", "#43b57f"]}, "legend": null}}},
        {"transform": [{"filter": "datum.kind == 'bar'"}], "mark": {"type": "rule", "strokeWidth": 1.5},
         "encoding": {"x": {"field": "group", "type": "nominal", "axis": null}, "y": {"field": "lo", "type": "quantitative"}, "y2": {"field": "hi"}}},
        {"transform": [{"filter": "datum.kind == 'bar'"}], "mark": {"type": "tick", "orient": "horizontal", "size": 15, "thickness": 1.5},
         "encoding": {"x": {"field": "group", "type": "nominal", "axis": null}, "y": {"field": "lo", "type": "quantitative"}}},
        {"transform": [{"filter": "datum.kind == 'bar'"}], "mark": {"type": "tick", "orient": "horizontal", "size": 15, "thickness": 1.5},
         "encoding": {"x": {"field": "group", "type": "nominal", "axis": null}, "y": {"field": "hi", "type": "quantitative"}}},
        {"transform": [{"filter": "datum.kind == 'pt'"}], "mark": {"type": "point", "filled": true, "size": 28, "opacity": 1},
         "encoding": {"x": {"field": "group", "type": "nominal", "axis": {"orient": "top", "title": "IL-25", "labels": false, "ticks": false, "domain": false, "titlePadding": 12.5}},
                      "y": {"field": "value", "type": "quantitative"},
                      "shape": {"field": "group", "type": "nominal", "scale": {"domain": ["si-NC", "si-ADO"], "range": ["circle", "triangle-up"]}, "legend": null}}},
        {"transform": [{"filter": "datum.kind == 'sig'"}], "mark": {"type": "rule", "strokeWidth": 2.5},
         "encoding": {"x": {"datum": "si-NC", "axis": null}, "x2": {"datum": "si-ADO"}, "y": {"field": "y", "type": "quantitative"}, "color": {"value": "black"}}},
        {"transform": [{"filter": "datum.kind == 'sig'"}], "mark": {"type": "tick", "orient": "vertical", "size": 9, "thickness": 2.5},
         "encoding": {"x": {"datum": "si-NC", "axis": null}, "y": {"field": "y", "type": "quantitative"}, "color": {"value": "black"}}},
        {"transform": [{"filter": "datum.kind == 'sig'"}], "mark": {"type": "tick", "orient": "vertical", "size": 9, "thickness": 2.5},
         "encoding": {"x": {"datum": "si-ADO", "axis": null}, "y": {"field": "y", "type": "quantitative"}, "color": {"value": "black"}}},
        {"transform": [{"filter": "datum.kind == 'sig'"}], "mark": {"type": "text", "fontSize": 22, "fontWeight": "bold", "baseline": "alphabetic", "dy": 2.5},
         "encoding": {"y": {"field": "y", "type": "quantitative"}, "text": {"field": "label"}, "color": {"value": "black"}}}
      ]
    },
    {
      "width": 101, "height": 149,
      "transform": [{"filter": "datum.panel == 'IL-33'"}],
      "resolve": {"axis": {"x": "independent"}},
      "encoding": {"color": {"field": "group", "type": "nominal", "scale": {"domain": ["si-NC", "si-ADO"], "range": ["#34425f", "#43b57f"]}, "legend": null}},
      "layer": [
        {"transform": [{"filter": "datum.kind == 'bar'"}], "mark": {"type": "bar", "fill": "white", "strokeWidth": 3},
         "encoding": {"x": {"field": "group", "type": "nominal", "scale": {"domain": ["si-NC", "si-ADO"], "paddingInner": 0.39, "paddingOuter": 0.39}, "axis": {"title": null}},
                      "y": {"field": "mean", "type": "quantitative", "scale": {"domain": [0, 4], "nice": false}, "axis": {"title": "Relative expression", "values": [0, 1, 2, 3, 4], "tickCount": 20, "format": "d"}},
                      "color": {"value": "white"},
                      "stroke": {"field": "group", "type": "nominal", "scale": {"domain": ["si-NC", "si-ADO"], "range": ["#34425f", "#43b57f"]}, "legend": null}}},
        {"transform": [{"filter": "datum.kind == 'bar'"}], "mark": {"type": "rule", "strokeWidth": 1.5},
         "encoding": {"x": {"field": "group", "type": "nominal", "axis": null}, "y": {"field": "lo", "type": "quantitative"}, "y2": {"field": "hi"}}},
        {"transform": [{"filter": "datum.kind == 'bar'"}], "mark": {"type": "tick", "orient": "horizontal", "size": 15, "thickness": 1.5},
         "encoding": {"x": {"field": "group", "type": "nominal", "axis": null}, "y": {"field": "lo", "type": "quantitative"}}},
        {"transform": [{"filter": "datum.kind == 'bar'"}], "mark": {"type": "tick", "orient": "horizontal", "size": 15, "thickness": 1.5},
         "encoding": {"x": {"field": "group", "type": "nominal", "axis": null}, "y": {"field": "hi", "type": "quantitative"}}},
        {"transform": [{"filter": "datum.kind == 'pt'"}], "mark": {"type": "point", "filled": true, "size": 28, "opacity": 1},
         "encoding": {"x": {"field": "group", "type": "nominal", "axis": {"orient": "top", "title": "IL-33", "labels": false, "ticks": false, "domain": false, "titlePadding": 12.5}},
                      "y": {"field": "value", "type": "quantitative"},
                      "shape": {"field": "group", "type": "nominal", "scale": {"domain": ["si-NC", "si-ADO"], "range": ["circle", "triangle-up"]}, "legend": null}}},
        {"transform": [{"filter": "datum.kind == 'sig'"}], "mark": {"type": "rule", "strokeWidth": 2.5},
         "encoding": {"x": {"datum": "si-NC", "axis": null}, "x2": {"datum": "si-ADO"}, "y": {"field": "y", "type": "quantitative"}, "color": {"value": "black"}}},
        {"transform": [{"filter": "datum.kind == 'sig'"}], "mark": {"type": "tick", "orient": "vertical", "size": 9, "thickness": 2.5},
         "encoding": {"x": {"datum": "si-NC", "axis": null}, "y": {"field": "y", "type": "quantitative"}, "color": {"value": "black"}}},
        {"transform": [{"filter": "datum.kind == 'sig'"}], "mark": {"type": "tick", "orient": "vertical", "size": 9, "thickness": 2.5},
         "encoding": {"x": {"datum": "si-ADO", "axis": null}, "y": {"field": "y", "type": "quantitative"}, "color": {"value": "black"}}},
        {"transform": [{"filter": "datum.kind == 'sig'"}], "mark": {"type": "text", "fontSize": 22, "fontWeight": "bold", "baseline": "alphabetic", "dy": 2.5},
         "encoding": {"y": {"field": "y", "type": "quantitative"}, "text": {"field": "label"}, "color": {"value": "black"}}}
      ]
    },
    {
      "width": 98, "height": 149,
      "transform": [{"filter": "datum.panel == 'CCL17'"}],
      "resolve": {"axis": {"x": "independent"}},
      "encoding": {"color": {"field": "group", "type": "nominal", "scale": {"domain": ["si-NC", "si-ADO"], "range": ["#34425f", "#43b57f"]}, "legend": null}},
      "layer": [
        {"transform": [{"filter": "datum.kind == 'bar'"}], "mark": {"type": "bar", "fill": "white", "strokeWidth": 3},
         "encoding": {"x": {"field": "group", "type": "nominal", "scale": {"domain": ["si-NC", "si-ADO"], "paddingInner": 0.39, "paddingOuter": 0.39}, "axis": {"title": null}},
                      "y": {"field": "mean", "type": "quantitative", "scale": {"domain": [0, 2], "nice": false}, "axis": {"title": "Relative expression", "values": [0, 0.5, 1, 1.5, 2], "tickCount": 20, "format": ".1f"}},
                      "color": {"value": "white"},
                      "stroke": {"field": "group", "type": "nominal", "scale": {"domain": ["si-NC", "si-ADO"], "range": ["#34425f", "#43b57f"]}, "legend": null}}},
        {"transform": [{"filter": "datum.kind == 'bar'"}], "mark": {"type": "rule", "strokeWidth": 1.5},
         "encoding": {"x": {"field": "group", "type": "nominal", "axis": null}, "y": {"field": "lo", "type": "quantitative"}, "y2": {"field": "hi"}}},
        {"transform": [{"filter": "datum.kind == 'bar'"}], "mark": {"type": "tick", "orient": "horizontal", "size": 15, "thickness": 1.5},
         "encoding": {"x": {"field": "group", "type": "nominal", "axis": null}, "y": {"field": "lo", "type": "quantitative"}}},
        {"transform": [{"filter": "datum.kind == 'bar'"}], "mark": {"type": "tick", "orient": "horizontal", "size": 15, "thickness": 1.5},
         "encoding": {"x": {"field": "group", "type": "nominal", "axis": null}, "y": {"field": "hi", "type": "quantitative"}}},
        {"transform": [{"filter": "datum.kind == 'pt'"}], "mark": {"type": "point", "filled": true, "size": 28, "opacity": 1},
         "encoding": {"x": {"field": "group", "type": "nominal", "axis": {"orient": "top", "title": "CCL17", "labels": false, "ticks": false, "domain": false, "titlePadding": 12.5}},
                      "y": {"field": "value", "type": "quantitative"},
                      "shape": {"field": "group", "type": "nominal", "scale": {"domain": ["si-NC", "si-ADO"], "range": ["circle", "triangle-up"]}, "legend": null}}},
        {"transform": [{"filter": "datum.kind == 'sig'"}], "mark": {"type": "rule", "strokeWidth": 2.5},
         "encoding": {"x": {"datum": "si-NC", "axis": null}, "x2": {"datum": "si-ADO"}, "y": {"field": "y", "type": "quantitative"}, "color": {"value": "black"}}},
        {"transform": [{"filter": "datum.kind == 'sig'"}], "mark": {"type": "tick", "orient": "vertical", "size": 9, "thickness": 2.5},
         "encoding": {"x": {"datum": "si-NC", "axis": null}, "y": {"field": "y", "type": "quantitative"}, "color": {"value": "black"}}},
        {"transform": [{"filter": "datum.kind == 'sig'"}], "mark": {"type": "tick", "orient": "vertical", "size": 9, "thickness": 2.5},
         "encoding": {"x": {"datum": "si-ADO", "axis": null}, "y": {"field": "y", "type": "quantitative"}, "color": {"value": "black"}}},
        {"transform": [{"filter": "datum.kind == 'sig'"}], "mark": {"type": "text", "fontSize": 22, "fontWeight": "bold", "baseline": "alphabetic", "dy": 2.5},
         "encoding": {"y": {"field": "y", "type": "quantitative"}, "text": {"field": "label"}, "color": {"value": "black"}}}
      ]
    },
    {
      "width": 102, "height": 149,
      "transform": [{"filter": "datum.panel == 'CCL22'"}],
      "resolve": {"axis": {"x": "independent"}},
      "encoding": {"color": {"field": "group", "type": "nominal", "scale": {"domain": ["si-NC", "si-ADO"], "range": ["#34425f", "#43b57f"]}, "legend": null}},
      "layer": [
        {"transform": [{"filter": "datum.kind == 'bar'"}], "mark": {"type": "bar", "fill": "white", "strokeWidth": 3},
         "encoding": {"x": {"field": "group", "type": "nominal", "scale": {"domain": ["si-NC", "si-ADO"], "paddingInner": 0.39, "paddingOuter": 0.39}, "axis": {"title": null}},
                      "y": {"field": "mean", "type": "quantitative", "scale": {"domain": [0, 2], "nice": false}, "axis": {"title": "Relative expression", "values": [0, 0.5, 1, 1.5, 2], "tickCount": 20, "format": ".1f"}},
                      "color": {"value": "white"},
                      "stroke": {"field": "group", "type": "nominal", "scale": {"domain": ["si-NC", "si-ADO"], "range": ["#34425f", "#43b57f"]}, "legend": null}}},
        {"transform": [{"filter": "datum.kind == 'bar'"}], "mark": {"type": "rule", "strokeWidth": 1.5},
         "encoding": {"x": {"field": "group", "type": "nominal", "axis": null}, "y": {"field": "lo", "type": "quantitative"}, "y2": {"field": "hi"}}},
        {"transform": [{"filter": "datum.kind == 'bar'"}], "mark": {"type": "tick", "orient": "horizontal", "size": 15, "thickness": 1.5},
         "encoding": {"x": {"field": "group", "type": "nominal", "axis": null}, "y": {"field": "lo", "type": "quantitative"}}},
        {"transform": [{"filter": "datum.kind == 'bar'"}], "mark": {"type": "tick", "orient": "horizontal", "size": 15, "thickness": 1.5},
         "encoding": {"x": {"field": "group", "type": "nominal", "axis": null}, "y": {"field": "hi", "type": "quantitative"}}},
        {"transform": [{"filter": "datum.kind == 'pt'"}], "mark": {"type": "point", "filled": true, "size": 28, "opacity": 1},
         "encoding": {"x": {"field": "group", "type": "nominal", "axis": {"orient": "top", "title": "CCL22", "labels": false, "ticks": false, "domain": false, "titlePadding": 11}},
                      "y": {"field": "value", "type": "quantitative"},
                      "shape": {"field": "group", "type": "nominal", "scale": {"domain": ["si-NC", "si-ADO"], "range": ["circle", "triangle-up"]}, "legend": null}}},
        {"transform": [{"filter": "datum.kind == 'sig'"}], "mark": {"type": "rule", "strokeWidth": 2.5},
         "encoding": {"x": {"datum": "si-NC", "axis": null}, "x2": {"datum": "si-ADO"}, "y": {"field": "y", "type": "quantitative"}, "color": {"value": "black"}}},
        {"transform": [{"filter": "datum.kind == 'sig'"}], "mark": {"type": "tick", "orient": "vertical", "size": 9, "thickness": 2.5},
         "encoding": {"x": {"datum": "si-NC", "axis": null}, "y": {"field": "y", "type": "quantitative"}, "color": {"value": "black"}}},
        {"transform": [{"filter": "datum.kind == 'sig'"}], "mark": {"type": "tick", "orient": "vertical", "size": 9, "thickness": 2.5},
         "encoding": {"x": {"datum": "si-ADO", "axis": null}, "y": {"field": "y", "type": "quantitative"}, "color": {"value": "black"}}},
        {"transform": [{"filter": "datum.kind == 'sig'"}], "mark": {"type": "text", "fontSize": 22, "fontWeight": "bold", "baseline": "alphabetic", "dy": 2.5},
         "encoding": {"y": {"field": "y", "type": "quantitative"}, "text": {"field": "label"}, "color": {"value": "black"}}}
      ]
    }
  ],
  "config": {
    "font": "Liberation Sans",
    "view": {"stroke": null},
    "axis": {
      "domainColor": "black", "domainWidth": 2.5, "domainCap": "square",
      "tickColor": "black", "tickWidth": 2.5, "tickSize": 5,
      "labelFont": "Liberation Sans", "labelFontSize": 12, "labelColor": "black", "labelPadding": 2,
      "labelOverlap": false,
      "titleFont": "Liberation Sans", "titleFontSize": 12, "titleFontWeight": "normal", "titleColor": "black",
      "grid": false
    },
    "axisX": {"labelAngle": 0, "labelPadding": 1},
    "axisY": {"titlePadding": 4},
    "title": {"anchor": "start", "frame": "bounds", "font": "Liberation Sans", "fontSize": 16, "fontWeight": "bold", "color": "black", "offset": -10}
  }
}
